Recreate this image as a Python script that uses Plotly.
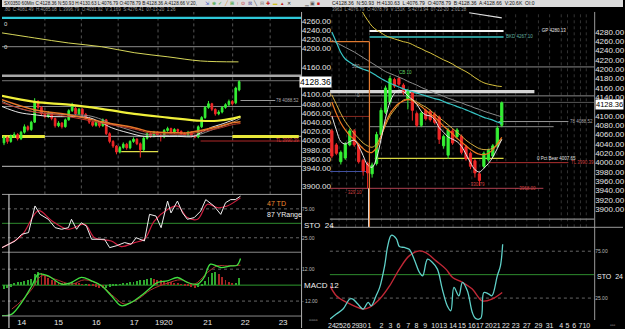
import plotly.graph_objects as go

W, H = 625, 329
FONT = "Liberation Sans, Arial, sans-serif"
GREEN = "#35f035"
RED = "#f02828"

# ---------------- LEFT CHART (60 min) ----------------
L_open = [3995,4006,3998,4010,4013,4004,4018,4030,4024,4040,
          4085,4072,4058,4052,4060,4048,4032,4038,4030,4045,
          4065,4070,4058,4068,4057,4048,4040,4033,4040,4032,
          4045,4015,3998,3988,3975,3985,3992,3984,3998,4003,
          3993,3980,4005,4015,4010,4018,4012,4008,4022,4026,
          4018,4024,4020,4015,4012,4018,4010,4008,4030,4050,
          4072,4080,4068,4058,4062,4072,4078,4085,4082,4110]
L_close = [4006,3998,4010,4013,4004,4018,4030,4024,4040,4085,
           4072,4058,4052,4060,4048,4032,4038,4030,4045,4065,
           4078,4058,4068,4057,4048,4040,4033,4040,4032,4045,
           4015,3998,3988,3975,3985,3992,3984,3998,4003,3993,
           3980,4005,4015,4010,4018,4012,4008,4022,4026,4018,
           4024,4020,4015,4012,4018,4010,4008,4030,4050,4072,
           4080,4068,4058,4062,4072,4078,4085,4080,4114,4128]
L_high = [4010,4009,4013,4018,4016,4021,4035,4033,4043,4092,
          4088,4075,4062,4064,4062,4050,4042,4040,4048,4068,
          4082,4073,4071,4070,4060,4051,4043,4044,4042,4048,
          4047,4018,4001,3990,3988,3996,3995,4001,4007,4005,
          3996,4008,4019,4018,4021,4020,4015,4025,4030,4028,
          4027,4026,4022,4018,4021,4020,4013,4033,4053,4075,
          4086,4082,4070,4066,4075,4081,4089,4088,4117,4131]
L_low = [3990,3993,3995,4006,4000,4001,4015,4020,4021,4038,
         4068,4054,4048,4049,4044,4028,4029,4026,4028,4043,
         4062,4055,4055,4053,4045,4036,4030,4030,4028,4030,
         4012,3994,3984,3970,3972,3982,3980,3981,3995,3990,
         3963,3977,4002,4006,4007,4008,3998,4005,4019,4015,
         4015,4016,4012,4009,4009,4007,4005,4005,4027,4047,
         4069,4064,4054,4055,4059,4069,4075,4076,4079,4107]

L_day_lab = ["14", "15", "16", "17", "1920", "21", "22", "23"]
L_day_pos = [5.2, 16, 27.1, 38.2, 46.9, 59.8, 70.8, 81.9]
L_day_breaks = [12, 22.7, 33.5, 45.2, 55.7, 67.1, 78.1]

# moving averages (bar position, value)
L_ma_yel_x = [-0.6, 9.0, 19.0, 28.6, 38.2, 48.1, 57.7, 62.7, 67.3, 69.4]
L_ma_yel_y = [4097, 4084, 4078, 4069, 4058, 4050, 4043, 4043, 4048, 4052]
L_ma_org_x = [-0.6, 9.0, 19.0, 28.6, 38.2, 43.1, 49.9, 53.9, 57.7, 62.7, 67.3, 69.4]
L_ma_org_y = [4089, 4067, 4056, 4041, 4028, 4019, 4017, 4017, 4022, 4030, 4039, 4041]
L_ma_red_y = [4082, 4062, 4052, 4038, 4025, 4016, 4014, 4014, 4019, 4026, 4035, 4037]
L_ma_wht_x = [-0.6, 4.4, 9.0, 14.0, 19.0, 24.8, 28.6, 31.5, 36.4, 41.1, 46.1, 51.0, 55.7, 57.7, 60.6, 63.6, 67.3, 69.4]
L_ma_wht_y = [4074, 4061, 4056, 4052, 4052, 4050, 4039, 4028, 4017, 4009, 4009, 4009, 4009, 4017, 4028, 4035, 4045, 4052]
L_ma_gry_y = [4085, 4070, 4062, 4058, 4056, 4054, 4046, 4036, 4024, 4014, 4011, 4011, 4011, 4014, 4022, 4030, 4040, 4048]
L_ma_long_x = [-0.6, 9.0, 19.0, 28.6, 38.2, 48.1, 57.7, 68.8]
L_ma_long_y = [4234, 4223, 4212, 4204, 4191, 4182, 4173, 4171]

# stochastic
L_stoK_x = [-0.6, 3.3, 5.2, 7.2, 9.1, 10.6, 13.0, 15.0, 16.9, 18.9, 19.8, 21.3, 22.7, 24.2, 25.7,
            27.6, 29.5, 31.0, 32.9, 35.4, 37.3, 38.8, 41.2, 42.7, 44.6, 46.1, 48.0, 49.0, 50.9,
            52.4, 53.8, 55.8, 57.7, 59.2, 61.6, 63.6, 65.0, 66.5, 67.9, 69.4]
L_stoK_y = [8, 19.5, 31, 34, 80, 65.5, 57, 42.5, 39.7, 42.5, 57, 39.7, 51, 45, 22.4,
            22.4, 22.4, 8, 11, 16.7, 13.8, 25, 19.5, 65.5, 62.6, 42.5, 88.5, 68, 88.5,
            68, 57, 59.8, 71, 91, 80, 65.5, 85.6, 91, 91, 97]
L_stoD_x = [-0.6, 5.2, 10.1, 14.0, 18.9, 23.7, 26.6, 31.5, 34.4, 38.3, 41.2, 44.1, 48.0, 50.9,
            53.8, 56.8, 59.7, 62.6, 65.5, 69.4]
L_stoD_y = [8, 29, 71.8, 54.6, 39.7, 48.3, 25, 19.5, 9.8, 16.7, 22.4, 54, 74, 80, 60, 57, 83, 77, 80, 94]

# MACD
L_macd_x = [-0.6, 2.3, 5.2, 8.2, 10.1, 13.0, 16.9, 19.8, 22.7, 25.7, 28.6, 31.5, 34.4, 37.3,
            40.2, 43.1, 45.1, 48.0, 50.9, 53.8, 56.8, 58.7, 60.6, 63.6, 66.5, 68.4, 69.4]
L_macd_y = [-23, -21.8, -13, -0.5, 8.25, 7, 0.75, 2, 5.8, 3.25, -0.5, -8, -15.5, -13,
            -8, -1.75, 2, 3.25, 5.75, 2, 0.75, 5.75, 15.75, 13.25, 14.5, 15, 20]
L_sig_x = [2.3, 5.2, 8.2, 11.1, 15.0, 19.8, 23.7, 28.6, 32.5, 35.4, 39.3, 43.1, 48.0, 51.9,
           55.8, 59.7, 62.6, 65.5, 69.4]
L_sig_y = [-18, -11.75, -3, 7, 4.5, 0.75, 4, -0.5, -9.25, -14.25, -10.5, -3.5, 1.5, 4, 0.75,
           9.5, 14.5, 14.5, 15]
L_hist = [-3, -2.5, -1.5,
          1, 2, 2.5, 3, 3.5, 4.5,
          8, 10, 9, 7,
          5.5, 4, 3, 2, 1.5,
          1, 1.5, 2, 1.5, 1, 0.5, 0.5,
          -0.5, -1, -1.5, -2, -2.5, -2, -1.5,
          -1, -0.5, 0.5, 1, 1.5, 2,
          2.5, 3, 3.5, 4, 4.5, 5, 4.5, 4, 3.5,
          3, 2.5, 2, 1.5, 1, 0.5,
          -0.5, -1, -1.5, -2, -1.5, -1,
          3, 6, 9, 10,
          8, 6, 4, 2,
          1, 1.5, 5]

# ---------------- RIGHT CHART ----------------
R_open = [4068,4038,4002,4010,4038,4068,4038,4005,3998,3976,
          3998,4060,4108,4130,4178,4180,4166,4137,4150,4105,
          4080,4112,4110,4104,4098,4036,4016,4068,4056,4056,
          4034,4020,4004,3976,3992,4006,4014,4036,4080]
R_close = [4014,4020,4022,4040,4068,4038,4002,3982,3978,3995,
           4060,4112,4160,4180,4164,4168,4150,4152,4112,4080,
           4106,4094,4092,4086,4050,4056,4070,4042,4070,4022,
           4008,3992,3978,3962,4020,4026,4036,4074,4128]
R_high = [4072,4042,4026,4044,4073,4072,4040,4008,4002,4000,
          4066,4118,4165,4186,4182,4184,4170,4158,4153,4109,
          4110,4116,4114,4108,4101,4060,4074,4072,4074,4060,
          4038,4024,4008,3980,4024,4030,4040,4079,4131]
R_low = [4010,4016,3996,4006,4035,4034,3998,3972,3945,3968,
         3994,4055,4104,4125,4160,4164,4145,4114,4090,4076,
         4076,4090,4088,4082,4040,4030,4008,4038,4052,4018,
         4004,3986,3968,3950,3988,4002,4010,4032,4076]

R_day_lab = ["24","25","26","29","30","1","2","3","6","7","8","9","10","13","14","15","16",
             "17","20","21","22","23","27","29","31","4","5","6","7","10"]
R_day_pos = [0, 1.6, 3.3, 5.3, 6.9, 8.4, 11.1, 13.1, 14.9, 17.1, 18.9, 20.9, 23.1, 24.9, 27.1,
             29.1, 31.3, 33.1, 35.1, 36.9, 38.9, 41.1, 43.6, 46.2, 48.7, 51.3, 52.7, 54.2, 55.6, 56.9]

R_ma_orange = [4130,4105,4085,4070,4058,4050,4040,4030,4023,4022,
               4032,4055,4085,4105,4118,4127,4132,4135,4133,4126,
               4120,4112,4104,4097,4088,4078,4070,4062,4052,4044,
               4036,4028,4022,4018,4017,4020,4028,4040,4054]
R_ma_gold = [4145,4125,4105,4088,4075,4062,4052,4042,4036,4033,
             4040,4058,4080,4100,4113,4125,4134,4136,4135,4130,
             4124,4119,4112,4104,4096,4089,4081,4073,4065,4057,
             4048,4041,4035,4030,4028,4028,4031,4038,4049]
R_ma_white = [4100,4070,4045,4040,4045,4048,4035,4015,3995,3990,
              4010,4050,4095,4130,4148,4155,4152,4143,4135,4125,
              4110,4102,4100,4092,4075,4065,4055,4050,4045,4035,
              4018,4000,3985,3980,3988,3998,4012,4030,4050]
R_ma_cyan = [4280,4258,4236,4222,4215,4209,4204,4200,4197,4192,
             4186,4180,4175,4170,4166,4162,4158,4155,4152,4149,
             4146,4143,4140,4137,4135,4131,4127,4124,4120,4117,
             4113,4109,4105,4101,4097,4094,4091,4087,4084]
R_ma_gray = [4262,4257,4252,4247,4242,4237,4231,4225,4219,4213,
             4207,4201,4195,4191,4187,4183,4179,4174,4170,4166,
             4161,4157,4153,4149,4146,4142,4138,4135,4131,4128,
             4124,4121,4117,4114,4110,4107,4104,4101,4098]
R_ma_yellow = [None,None,None,None,None,None,4340,4320,4305,4292,
               4284,4278,4272,4268,4265,4262,4259,4257,4253,4248,
               4244,4239,4235,4230,4225,4220,4216,4211,4205,4200,
               4195,4189,4182,4176,4171,4168,4166,4164,4163]
R_top_x = [30.7, 38.0]
R_top_y = [4321, 4310]

R_stoK_x = [-0.4, 1.0, 2.5, 4.0, 4.7, 5.8, 7.0, 8.1, 8.8, 9.9, 10.7, 11.8, 12.5, 13.3, 14.4, 15.1,
            16.2, 17.3, 18.4, 19.6, 20.3, 21.4, 22.5, 23.6, 24.7, 25.8, 26.6, 27.3, 28.4, 29.2,
            30.3, 31.4, 32.1, 33.3, 34.0, 35.1, 35.8, 37.0, 37.7, 38.2]
R_stoK_y = [2.7, 8, 13.3, 24, 24, 18.6, 13.3, 20.4, 16.8, 27.5, 36.4, 59.4, 80.7, 92, 88.5, 80,
            79, 77, 66.5, 52.3, 48.7, 66.5, 63, 55.9, 34.6, 16.8, 11.5, 36.4, 27.5, 41.7,
            32.8, 9.8, 3.4, 3.4, 31, 29.3, 27.5, 48.7, 59.4, 82.4]
R_stoD_x = [-0.4, 1.0, 3.3, 7.0, 8.4, 10.7, 12.9, 15.1, 17.3, 19.6, 21.0, 23.3, 25.5, 27.0, 29.2,
            31.4, 33.6, 35.8, 38.1]
R_stoD_y = [38, 27.5, 20.4, 13.3, 15.1, 24, 38, 55.9, 70, 75.3, 73.6, 64.7, 55.9, 47, 41.7,
            34.6, 22.1, 24, 31]

# ---------------- FIGURE ----------------
fig = go.Figure()

def candles(o, h, l, c, xa, ya):
    return go.Candlestick(
        x=list(range(len(c))), open=o, high=h, low=l, close=c, xaxis=xa, yaxis=ya,
        increasing=dict(line=dict(color=GREEN, width=1), fillcolor=GREEN),
        decreasing=dict(line=dict(color=RED, width=1), fillcolor=RED),
        whiskerwidth=0, hoverinfo="skip", showlegend=False)

def line(x, y, color, width, xa, ya, shape="spline", dash="solid"):
    return go.Scatter(x=x, y=y, mode="lines", xaxis=xa, yaxis=ya, hoverinfo="skip",
                      line=dict(color=color, width=width, shape=shape, dash=dash),
                      showlegend=False, connectgaps=False)

# left price
fig.add_trace(line(L_ma_long_x, L_ma_long_y, "#d6d65a", 1, "x", "y"))
fig.add_trace(candles(L_open, L_high, L_low, L_close, "x", "y"))
fig.add_trace(line(L_ma_wht_x, L_ma_gry_y, "#8a8a8a", 1, "x", "y"))
fig.add_trace(line(L_ma_wht_x, L_ma_wht_y, "#e6e6e6", 1, "x", "y"))
fig.add_trace(line(L_ma_org_x, L_ma_red_y, "#c0392b", 1, "x", "y"))
fig.add_trace(line(L_ma_org_x, L_ma_org_y, "#e8782a", 1.5, "x", "y"))
fig.add_trace(line(L_ma_yel_x, L_ma_yel_y, "#f0f03a", 2.2, "x", "y"))

# left stochastic
fig.add_trace(line(L_stoD_x, L_stoD_y, "#d02040", 1.2, "x", "y2"))
fig.add_trace(line(L_stoK_x, L_stoK_y, "#f0f0f0", 1, "x", "y2", shape="linear"))

# left MACD
hist_col = ["#2fa82f" if i == 0 or v >= L_hist[i - 1] else "#a82424" for i, v in enumerate(L_hist)]
fig.add_trace(go.Bar(x=list(range(len(L_hist))), y=L_hist, marker=dict(color=hist_col, line=dict(width=0)),
                     width=0.28, xaxis="x", yaxis="y3", hoverinfo="skip", showlegend=False))
fig.add_trace(line(L_sig_x, L_sig_y, "#b03030", 1, "x", "y3"))
fig.add_trace(line(L_macd_x, L_macd_y, "#40e040", 1.3, "x", "y3"))

# right price
ridx = list(range(len(R_close)))
fig.add_trace(line(ridx, R_ma_yellow, "#d8c23e", 1, "x2", "y4"))
fig.add_trace(line(R_top_x, R_top_y, "#e0e0e0", 1.2, "x2", "y4"))
fig.add_trace(line(ridx, R_ma_gray, "#8c8c8c", 1, "x2", "y4"))
fig.add_trace(line(ridx, R_ma_cyan, "#36c4c4", 1.2, "x2", "y4"))
fig.add_trace(candles(R_open, R_high, R_low, R_close, "x2", "y4"))
fig.add_trace(line(ridx, R_ma_gold, "#d8b040", 1, "x2", "y4"))
fig.add_trace(line(ridx, R_ma_orange, "#f07a20", 1.2, "x2", "y4"))
fig.add_trace(line(ridx, R_ma_white, "#e8e8e8", 1, "x2", "y4"))

# right stochastic
fig.add_trace(line(R_stoD_x, R_stoD_y, "#c02836", 1.4, "x2", "y5"))
fig.add_trace(line(R_stoK_x, R_stoK_y, "#5fd0c8", 1.3, "x2", "y5"))

# ---------------- SHAPES ----------------
shapes = []

def hl(val, x0, x1, color, width=1, xref="x", yref="y", dash="solid"):
    shapes.append(dict(type="line", xref=xref, yref=yref, x0=x0, x1=x1, y0=val, y1=val,
                       line=dict(color=color, width=width, dash=dash), layer="below"))

def pline(x0, y0, x1, y1, color, width=1, dash="solid", layer="above"):
    shapes.append(dict(type="line", xref="paper", yref="paper", x0=x0 / W, x1=x1 / W,
                       y0=1 - y0 / H, y1=1 - y1 / H, line=dict(color=color, width=width, dash=dash),
                       layer=layer))

# top strip background
shapes.append(dict(type="rect", xref="paper", yref="paper", x0=0, x1=1, y0=1 - 7 / H, y1=1,
                   fillcolor="#dcdcdc", line=dict(width=0), layer="below"))

# left grid (day breaks)
for b in L_day_breaks:
    shapes.append(dict(type="line", xref="x", yref="y domain", x0=b, x1=b, y0=0, y1=1,
                       line=dict(color="#555555", width=1, dash="dot"), layer="below"))
# right grid
for b in R_day_pos:
    shapes.append(dict(type="line", xref="x2", yref="y4 domain", x0=b, x1=b, y0=0, y1=1,
                       line=dict(color="#333333", width=1, dash="dot"), layer="below"))

# left levels
hl(4266.5, 0, 1, "#2ec8d8", 2.2, xref="x domain")
hl(4204, 0, 1, "#8a8a8a", 1, xref="x domain")
hl(4141, 0, 1, "#a8a8a8", 2.5, xref="x domain")
hl(4130, 0, 1, "#777777", 1, xref="x domain")
hl(4074, 0, 1, "#888888", 1, xref="x domain")
hl(4087, 69.4, 79.6, "#999999", 1)
hl(4009, 0, 1, "#8a8a8a", 1.2, xref="x domain")
hl(4009, -0.6, 12, "#e8e83a", 3)
hl(4009, 67, 86.5, "#e8e83a", 3)
hl(3999, 57.7, 87, "#b02828", 1)
hl(3976, 34.4, 45.2, "#e0e04a", 1.2)
hl(3944, 0, 1, "#9a9a9a", 1.2, xref="x domain")

# left STO / MACD guides
hl(75, 0, 1, "#666666", 1, xref="x domain", yref="y2", dash="dot")
hl(50, 0, 1, "#2e8b2e", 1, xref="x domain", yref="y2")
hl(25, 0, 1, "#666666", 1, xref="x domain", yref="y2", dash="dot")
hl(12, 0, 1, "#666666", 1, xref="x domain", yref="y3", dash="dot")
hl(0, 0, 1, "#2e9b2e", 1, xref="x domain", yref="y3")
hl(-12, 0, 1, "#666666", 1, xref="x domain", yref="y3", dash="dot")

# right levels
hl(4282, 8.4, 38.4, "#f4f4f4", 2, xref="x2", yref="y4")
hl(4269, 8.4, 38.4, "#3cc8c8", 1.5, xref="x2", yref="y4")
hl(4205, 6.2, 58.7, "#8a8a8a", 1, xref="x2", yref="y4")
hl(4152, -0.4, 45.3, "#d4d4d4", 3.2, xref="x2", yref="y4")
hl(4143, 0, 1, "#888888", 1, xref="x2 domain", yref="y4")
hl(4129, 0, 1, "#555555", 1, xref="x2 domain", yref="y4")
hl(4088, 37.3, 52.9, "#999999", 1, xref="x2", yref="y4")
hl(4077, 8.4, 49.6, "#8a8a8a", 1, xref="x2", yref="y4")
hl(4009, 9.6, 38.4, "#d8d840", 1.3, xref="x2", yref="y4")
hl(4000, 35.1, 52.9, "#b03030", 1, xref="x2", yref="y4")
hl(3945, -0.4, 47.3, "#b04050", 1, xref="x2", yref="y4")
hl(3879, 0, 1, "#8a8a8a", 1.2, xref="x2 domain", yref="y4")
hl(4259, -0.4, 8.4, "#e07a30", 1.2, xref="x2", yref="y4")
hl(4099, -0.4, 8.4, "#8a2a20", 1, xref="x2", yref="y4")
hl(3981, -0.4, 8.4, "#4050a0", 1, xref="x2", yref="y4")
shapes.append(dict(type="line", xref="x2", yref="y4", x0=8.4, x1=8.4, y0=4259, y1=3862,
                   line=dict(color="#e07a30", width=1.2)))
shapes.append(dict(type="line", xref="x2", yref="y4", x0=8.2, x1=8.2, y0=3945, y1=3862,
                   line=dict(color="#dddddd", width=1)))

# right STO guides
hl(75, 0, 1, "#666666", 1, xref="x2 domain", yref="y5", dash="dot")
hl(50, 0, 1, "#2e8b2e", 1, xref="x2 domain", yref="y5")
hl(25, 0, 1, "#666666", 1, xref="x2 domain", yref="y5", dash="dot")

# panel frames
pline(0, 195, 301, 195, "#9a9a9a")
pline(0, 253, 301, 253, "#8a8a8a")
pline(0, 317, 301, 317, "#8a8a8a")
pline(301.5, 12, 301.5, 329, "#b0b0b0")
pline(330, 228, 625, 228, "#9a9a9a")
pline(596.5, 12, 596.5, 321, "#9a9a9a")
pline(7, 195, 7, 329, "#e8e8e8")

# ---------------- ANNOTATIONS ----------------
ann = []

def txt(x, y, s, color="#cccccc", size=5, anchor="left", bg=None):
    d = dict(x=x / W, y=1 - y / H, xref="paper", yref="paper", text=s, showarrow=False,
             xanchor=anchor, yanchor="middle",
             font=dict(family=FONT, size=size, color=color), borderpad=0)
    if bg:
        d["bgcolor"] = bg
    ann.append(d)

# top strips
txt(1, 3.5, "SX0350 60Min C:4128.36 N:50.93 H:4130.63 L:4076.79 O:4078.79 B:4128.36 A:4128.66 V:20,", "#111111", 4.6)
txt(1, 9.5, ".80  C:4081.49  H:4085.08  L:3996.79  O:4031.92  V:3,169  S:4276.41  07-13-20  1:26", "#9a9a9a", 4.5)
txt(331, 3.5, "C4128.36  N:50.93  H:4130.63  L:4076.79  O:4078.79  B:4128.36  A:4128.66  V:20.6K  OI:0", "#111111", 5)
txt(331, 9.5, "3963  L:4076.79  O:4078.79  V:151K  S:4273.94  07-22-20  2:01:28", "#9a9a9a", 4.5)
icons = ["⇲", "⊕", "✓", "╱", "⊞", "↑", "⊙", "⊠", "╲", "⊟", "✚", "▬", "▲", "✕"]
icol = ["#3050c0", "#30a030", "#30a030", "#d08020", "#30a030", "#c02020", "#c02020", "#6060a0",
        "#404040", "#808080", "#c02020", "#d0c020", "#c02020", "#303030"]
icon_html = "&nbsp;&nbsp;".join("<span style='color:%s'>%s</span>" % (cc, ic) for ic, cc in zip(icons, icol))
txt(203, 3.5, icon_html, "#333333", 4.5)
txt(303, 3.5, "▁ ▣ <span style='color:#d02020'>■</span>", "#555555", 5)

# left chart labels
txt(1, 24, "0", "#dddddd", 6)
txt(1, 47, "0", "#dddddd", 6)
txt(275, 101, "78 4088.52", "#aaaaaa", 4.5)
txt(275, 141, "TL 3990.39", "#d04040", 4.5)
txt(266, 204, "47 TD", "#f08a30", 7)
txt(266, 216, "87 YRange", "#f0f0f0", 7)
txt(303, 226, "STO  24", "#f0f0f0", 8)
txt(303, 286.5, "MACD 12", "#f0f0f0", 8)
txt(315.5, 82, "4128.36", "#000000", 8.5, anchor="center", bg="#ffffff")

# right chart labels
txt(536, 31, "→ GP 4280.13", "#e8e8e8", 4.5)
txt(506, 37, "BKD 4267.10", "#60b0a0", 4.5)
txt(351, 67, "500", "#aaaaaa", 4.5)
txt(356, 96, "0", "#aaaaaa", 4.5)
txt(399, 73, "CB 10", "#60d060", 4.5)
txt(571, 122, "78 4088.52", "#aaaaaa", 4.5)
txt(537, 159, "0 Pct Bear 4007.65", "#e0e0e0", 4.5)
txt(572, 163, "TL 3990.39", "#d04040", 4.5)
txt(515, 189, "-- 3968.00", "#d04040", 4.5)
txt(344, 193, "- 329.10", "#d04040", 4.5)
txt(468, 185, "- 330.79", "#d04040", 4.5)
txt(598, 277, "STO  24", "#f0f0f0", 7)
txt(611, 105, "4128.36", "#000000", 7.5, anchor="center", bg="#ffffff")
txt(314, 321, "▫▫▫▫", "#aaaaaa", 6, anchor="center")
txt(615, 326, "▫▫▫", "#aaaaaa", 5, anchor="center")

# ---------------- LAYOUT ----------------
def fmt(v):
    return "%.2f" % v

L_ticks = [3900, 3940, 3960, 3980, 4000, 4020, 4040, 4060, 4080, 4100, 4160,
           4200, 4220, 4240, 4260]
R_ticks = [3900, 3920, 3940, 3960, 3980, 4000, 4020, 4040, 4060, 4080, 4100, 4140,
           4160, 4180, 4200, 4220, 4240, 4260, 4280]

tf = dict(family=FONT, size=8, color="#e6e6e6")
small = dict(family=FONT, size=5, color="#bbbbbb")
common = dict(showgrid=False, zeroline=False, showline=False, ticks="", fixedrange=True)

fig.update_layout(
    width=W, height=H, margin=dict(l=0, r=0, t=0, b=0),
    paper_bgcolor="#000000", plot_bgcolor="#000000",
    showlegend=False, bargap=0, hovermode=False,
    shapes=shapes, annotations=ann,
    xaxis=dict(domain=[0, 301 / W], range=[-0.583, 87.17], anchor="y3",
               tickvals=L_day_pos, ticktext=L_day_lab, tickangle=0, tickfont=tf,
               rangeslider=dict(visible=False), **common),
    yaxis=dict(domain=[1 - 195 / H, 1 - 12 / H], range=[3882.9, 4279.5], anchor="x", side="right",
               tickvals=L_ticks, ticktext=[fmt(v) for v in L_ticks], tickfont=tf, **common),
    yaxis2=dict(domain=[1 - 253 / H, 1 - 195 / H], range=[0, 100], anchor="x", side="right",
                tickvals=[75, 25], ticktext=["75.00", "25.00"], tickfont=small, **common),
    yaxis3=dict(domain=[1 - 317 / H, 1 - 253 / H], range=[-23.25, 24.75], anchor="x", side="right",
                tickvals=[12, -12], ticktext=["12.00", "- 12.00"], tickfont=small, **common),
    xaxis2=dict(domain=[330 / W, 596 / W], range=[-0.444, 58.67], anchor="y5",
                tickvals=R_day_pos, ticktext=R_day_lab, tickangle=0,
                tickfont=dict(family=FONT, size=7, color="#e6e6e6"),
                rangeslider=dict(visible=False), **common),
    yaxis4=dict(domain=[1 - 228 / H, 1 - 12 / H], range=[3861.5, 4322.7], anchor="x2", side="right",
                tickvals=R_ticks, ticktext=[fmt(v) for v in R_ticks], tickfont=tf, **common),
    yaxis5=dict(domain=[1 - 321 / H, 1 - 228 / H], range=[1.6, 100.5], anchor="x2", side="right",
                tickvals=[75, 25], ticktext=["75.00", "25.00"], tickfont=small, **common),
)

fig.write_html("out.html")
